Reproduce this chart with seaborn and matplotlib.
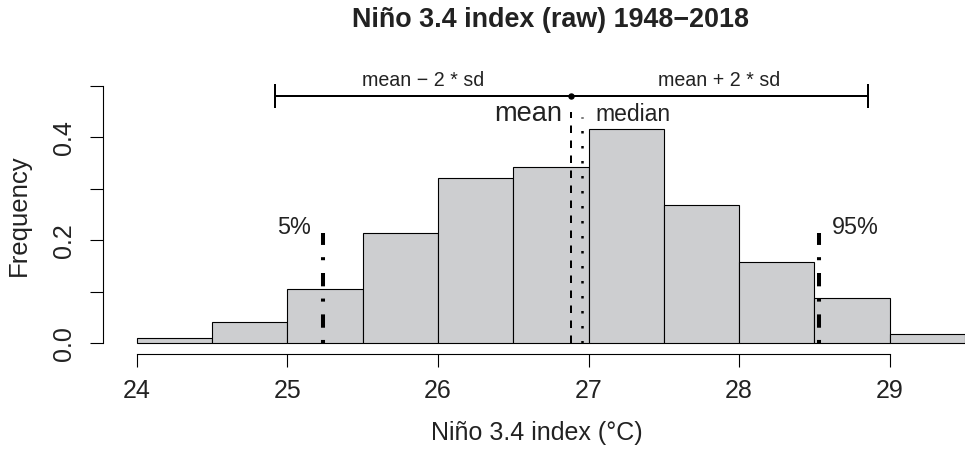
import numpy as np
import pandas as pd
import matplotlib
matplotlib.use("Agg")
import matplotlib.pyplot as plt
import seaborn as sns

# ---------------- data ----------------
bin_edges = [24.0, 24.5, 25.0, 25.5, 26.0, 26.5, 27.0, 27.5, 28.0, 28.5, 29.0, 29.5]
density = [0.0113, 0.0423, 0.106, 0.214, 0.321, 0.342, 0.416, 0.269, 0.159, 0.089, 0.018]
mean_val = 26.885
sd_val = 0.985
median_val = 26.955
q05 = 25.235
q95 = 28.533
x_ticks = [24, 25, 26, 27, 28, 29]
y_ticks = [0.0, 0.1, 0.2, 0.3, 0.4, 0.5]
y_ticklabels = ["0.0", "", "0.2", "", "0.4", ""]
title = "Niño 3.4 index (raw) 1948−2018"
xlabel = "Niño 3.4 index (°C)"
ylabel = "Frequency"

# ---------------- style ----------------
sns.set_style("white")
plt.rcParams['font.family'] = ['Liberation Sans', 'DejaVu Sans']
plt.rcParams['lines.scale_dashes'] = False
plt.rcParams['text.color'] = 'black'

W, H = 965, 450
fig = plt.figure(figsize=(W / 100, H / 100), dpi=100)
L, R, T, B = 103, 970, 75.5, 353.8
ax = fig.add_axes([L / W, 1 - B / H, (R - L) / W, (B - T) / H])

mids = [(a + b) / 2 for a, b in zip(bin_edges[:-1], bin_edges[1:])]
df = pd.DataFrame({"x": mids, "w": density})
sns.histplot(data=df, x="x", weights="w", bins=bin_edges, stat="count",
             color="#cdced0", edgecolor="black", linewidth=0.8, alpha=1, ax=ax)

ax.set_xlim(23.776, 29.533)
ax.set_ylim(-0.02, 0.52)

# axes like R base graphics
for s in ["top", "right"]:
    ax.spines[s].set_visible(False)
ax.spines["left"].set_bounds(0, 0.5)
ax.spines["bottom"].set_bounds(24, 29)
for s in ["left", "bottom"]:
    ax.spines[s].set_color("black")
    ax.spines[s].set_linewidth(0.8)

ax.set_xticks(x_ticks)
ax.set_xticklabels([str(t) for t in x_ticks])
ax.set_yticks(y_ticks)
ax.set_yticklabels(y_ticklabels)
ax.tick_params(axis='both', which='major', direction='out', length=9.4, width=0.8,
               color='black', labelsize=18, labelcolor='#222222',
               bottom=True, left=True, top=False, right=False)
ax.tick_params(axis='x', pad=8.5)
ax.tick_params(axis='y', pad=10, labelrotation=90)
for lab in ax.get_yticklabels():
    lab.set_va('center')
ax.set_xlabel("")
ax.set_ylabel("")

# mean / median lines
ax.plot([mean_val, mean_val], [0, 0.45], color='black', lw=1.44, dashes=(5.4, 5.4))
ax.plot([median_val, median_val], [0, 0.44], color='black', lw=1.8, dashes=(1.8, 9.0))

# 5% / 95% lines
for q in [q05, q95]:
    ax.plot([q, q], [0, 0.215], color='black', lw=2.9, dashes=(2.2, 8.8, 9.6, 9.2))

# mean +/- 2 sd bar
ax.errorbar([mean_val], [0.4806], xerr=[2 * sd_val], fmt='o', ms=3.6, color='black',
            capsize=8.6, elinewidth=1.44, capthick=1.44)

# annotations
ax.text(mean_val - sd_val, 0.4987, "mean − 2 * sd", ha='center', va='baseline', fontsize=14.1, color='#222222')
ax.text(mean_val + sd_val, 0.4987, "mean + 2 * sd", ha='center', va='baseline', fontsize=14.1, color='#222222')
ax.text(26.822, 0.4326, "mean", ha='right', va='baseline', fontsize=19.6, color='#222222')
ax.text(27.043, 0.4326, "median", ha='left', va='baseline', fontsize=16.5, color='#222222')
ax.text(25.155, 0.2126, "5%", ha='right', va='baseline', fontsize=16.8, color='#222222')
ax.text(28.615, 0.2126, "95%", ha='left', va='baseline', fontsize=16.8, color='#222222')

# titles / labels
fig.text(551 / W, 1 - 26.7 / H, title, ha='center', va='baseline', fontsize=19.4,
         fontweight='bold', color='#222222')
fig.text(536.5 / W, 1 - 440 / H, xlabel, ha='center', va='baseline', fontsize=18, color='#222222')
fig.text(19 / W, 1 - 215 / H, ylabel, ha='center', va='center', rotation=90, fontsize=18.5, color='#222222')

fig.savefig("out.png", dpi=100)
